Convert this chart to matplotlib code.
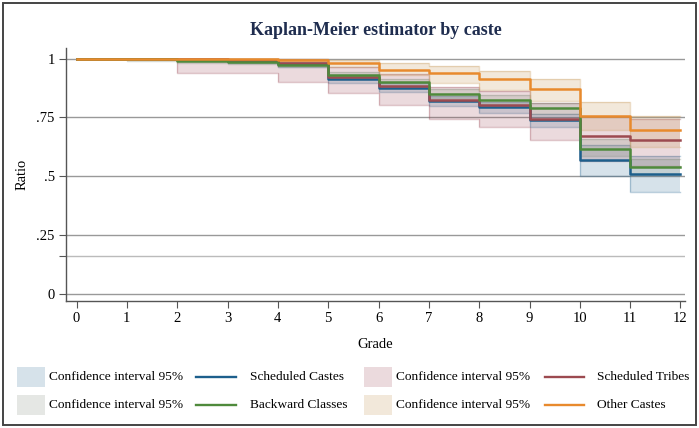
import matplotlib
matplotlib.use("Agg")
import matplotlib.pyplot as plt
from matplotlib.patches import Rectangle
from matplotlib.lines import Line2D

SERIF = ["Liberation Serif", "DejaVu Serif"]
plt.rcParams["font.family"] = SERIF

# survival estimate at each grade (value holds from grade k to k+1)
grades = list(range(12))
sc = [1, 1, 0.995, 0.990, 0.975, 0.915, 0.876, 0.821, 0.793, 0.739, 0.567, 0.510]
sc_lo = [1, 0.998, 0.988, 0.981, 0.963, 0.897, 0.856, 0.798, 0.768, 0.711, 0.499, 0.435]
sc_hi = [1, 1, 0.999, 0.996, 0.985, 0.931, 0.894, 0.842, 0.816, 0.765, 0.632, 0.585]
st = [1, 1, 0.996, 0.993, 0.980, 0.920, 0.882, 0.825, 0.801, 0.744, 0.669, 0.652]
st_lo = [1, 1, 0.939, 0.939, 0.899, 0.852, 0.802, 0.742, 0.709, 0.655, 0.565, 0.545]
st_hi = [1, 1, 1, 1, 0.998, 0.962, 0.935, 0.880, 0.862, 0.812, 0.755, 0.742]
bc = [1, 0.998, 0.991, 0.985, 0.974, 0.928, 0.900, 0.851, 0.825, 0.790, 0.615, 0.539]
bc_lo = [1, 0.990, 0.982, 0.975, 0.962, 0.912, 0.883, 0.831, 0.803, 0.765, 0.585, 0.505]
bc_hi = [1, 1, 0.996, 0.992, 0.983, 0.942, 0.915, 0.869, 0.845, 0.813, 0.660, 0.575]
oc = [1, 1, 1, 1, 0.993, 0.982, 0.953, 0.939, 0.913, 0.871, 0.757, 0.697]
oc_lo = [1, 1, 1, 1, 0.982, 0.965, 0.928, 0.895, 0.865, 0.820, 0.695, 0.626]
oc_hi = [1, 1, 1, 1, 0.999, 0.994, 0.979, 0.967, 0.946, 0.913, 0.815, 0.757]

labels = ["Scheduled Castes", "Scheduled Tribes", "Backward Classes", "Other Castes"]
line_cols = ["#1d5f8c", "#9c4a50", "#4f8a3c", "#e88a2d"]
band_cols = ["#1d5f8c", "#9b4a55", "#7f8a78", "#c89a5a"]
band_alpha = [0.18, 0.2, 0.2, 0.22]

fig = plt.figure(figsize=(6.99, 4.28), dpi=100)
ax = fig.add_axes([0.0944, 0.2967, 0.8856, 0.5913])

series = [(sc, sc_lo, sc_hi), (st, st_lo, st_hi), (bc, bc_lo, bc_hi), (oc, oc_lo, oc_hi)]
xs = grades + [12]
for (s, lo, hi), bc_, a in zip(series, band_cols, band_alpha):
    lo2 = lo + [lo[-1]]
    hi2 = hi + [hi[-1]]
    ax.fill_between(xs, lo2, hi2, step="post", color=bc_, alpha=a, lw=0, zorder=2)
    ax.step(xs, lo2, where="post", color=bc_, alpha=a + 0.12, lw=1, zorder=2)
    ax.step(xs, hi2, where="post", color=bc_, alpha=a + 0.12, lw=1, zorder=2)
for (s, lo, hi), lc in zip(series, line_cols):
    ax.step(xs, s + [s[-1]], where="post", color=lc, lw=1.8, zorder=3)

yt = [0, 0.16, 0.25, 0.5, 0.75, 1]
ytl = ["0", "", ".25", ".5", ".75", "1"]
for v in yt:
    ax.axhline(v, color="#bbbbbb" if v == 0.16 else "#999999", lw=1, zorder=1)
ax.set_yticks(yt)
ax.set_yticklabels(ytl)
ax.set_xticks(range(13))
ax.set_xlim(-0.21, 12.09)
ax.set_ylim(-0.03, 1.045)
ax.tick_params(axis="both", length=5, width=0.8, color="#555555", labelsize=10.5, pad=3)
for side in ["top", "right"]:
    ax.spines[side].set_visible(False)
for side in ["left", "bottom"]:
    ax.spines[side].set_color("#555555")
    ax.spines[side].set_linewidth(1)
ax.set_xlabel("Grade", fontsize=10.5, labelpad=9)
ax.set_ylabel("Ratio", fontsize=10.5, labelpad=6)
ax.set_title("Kaplan-Meier estimator by caste", fontsize=13, weight="bold",
             color="#1f2d4f", pad=9)

# outer frame
fig.add_artist(Rectangle((0.005, 0.006), 0.99, 0.988, transform=fig.transFigure,
                         fill=False, edgecolor="#444444", lw=1.4))

# legend, drawn by hand in pixel positions
W, H = 699.0, 428.0
def fx(px):
    return px / W
def fy(py):
    return 1 - py / H

rows = [
    [("patch", band_cols[0], band_alpha[0]), ("line", line_cols[0], labels[0]),
     ("patch", band_cols[1], band_alpha[1]), ("line", line_cols[1], labels[1])],
    [("patch", band_cols[2], band_alpha[2]), ("line", line_cols[2], labels[2]),
     ("patch", band_cols[3], band_alpha[3]), ("line", line_cols[3], labels[3])],
]
col_x = [(17, 45, 49), (196, 236, 250), (364, 392, 396), (545, 584, 597)]
row_y = [377, 405]
for r, items in enumerate(rows):
    yc = row_y[r]
    for (kind, col, extra), (x0, x1, tx) in zip(items, col_x):
        if kind == "patch":
            fig.add_artist(Rectangle((fx(x0), fy(yc + 10)), fx(x1) - fx(x0), 20 / H,
                                     transform=fig.transFigure, facecolor=col,
                                     alpha=extra, lw=0))
            text = "Confidence interval 95%"
        else:
            fig.add_artist(Line2D([fx(x0), fx(x1)], [fy(yc), fy(yc)],
                                  transform=fig.transFigure, color=col, lw=1.7))
            text = extra
        fig.text(fx(tx), fy(yc), text, fontsize=9.6, va="center", ha="left")

fig.savefig("out.png", dpi=100, facecolor="white")
